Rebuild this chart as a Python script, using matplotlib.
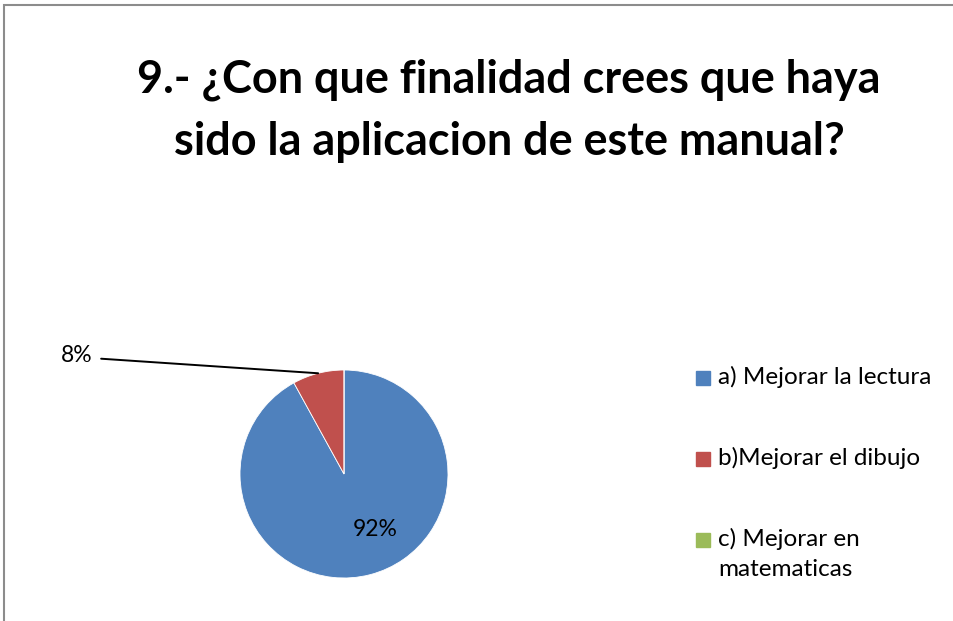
import numpy as np
import matplotlib.pyplot as plt
from matplotlib.patches import Rectangle

# survey answers (share of responses, %)
categories = ["a) Mejorar la lectura", "b)Mejorar el dibujo", "c) Mejorar en\nmatematicas"]
shares = [92, 8, 0]
colors = ["#4F81BD", "#C0504D", "#9BBB59"]
title = "9.- ¿Con que finalidad crees que haya\nsido la aplicacion de este manual?"

plt.rcParams["font.family"] = ["Lato", "DejaVu Sans"]

W, H = 954, 621
fig = plt.figure(figsize=(W / 100, H / 100), dpi=100)

# chart area border (only left and top edges show)
fig.add_artist(Rectangle((4.5 / W, -0.1), 2, 1.1 - 4.5 / H, transform=fig.transFigure,
                         fill=False, edgecolor="#8c8c8c", linewidth=1.5))

fig.text(509 / W, 1 - 111 / H, title, ha="center", va="center", fontsize=32.4,
         fontweight="bold", linespacing=1.58)

# pie axes: centre at (344, 474) px, radius 104 px
r_px = 104
half = 1.25 * r_px
ax = fig.add_axes([(344 - half) / W, (H - 474 - half) / H, 2 * half / W, 2 * half / H])
wedges, _ = ax.pie(shares, colors=colors, startangle=90, counterclock=False,
                   wedgeprops=dict(linewidth=0.6, edgecolor="white"))
ax.set_xlim(-1.25, 1.25)
ax.set_ylim(-1.25, 1.25)
ax.set_aspect("equal")
ax.axis("off")

# 92% inside the big slice
ax.text((375 - 344) / r_px, (474 - 529) / r_px, f"{shares[0]}%", ha="center", va="center",
        fontsize=16.5)

# 8% label pulled out with a leader line to the slice edge
w = wedges[1]
mid = np.deg2rad((w.theta1 + w.theta2) / 2)
ax.annotate(f"{shares[1]}%", xy=(np.cos(mid), np.sin(mid)),
            xytext=((77 - 344) / r_px, (474 - 355) / r_px), ha="center", va="center",
            fontsize=16.5, annotation_clip=False,
            arrowprops=dict(arrowstyle="-", color="black", lw=1.4, relpos=(1, 0.35),
                            shrinkA=4, shrinkB=0))

# legend drawn by hand so the wrapped label hangs under its first line
leg_y = [378, 459, 540]
for cat, col, y in zip(categories, colors, leg_y):
    fig.add_artist(Rectangle((696 / W, 1 - (y + 7) / H), 14 / W, 14 / H,
                             transform=fig.transFigure, color=col))
    fig.text(718 / W, 1 - (y - 12) / H, cat, ha="left", va="top", fontsize=17.5,
             linespacing=1.5)

fig.savefig("out.png", dpi=100)
